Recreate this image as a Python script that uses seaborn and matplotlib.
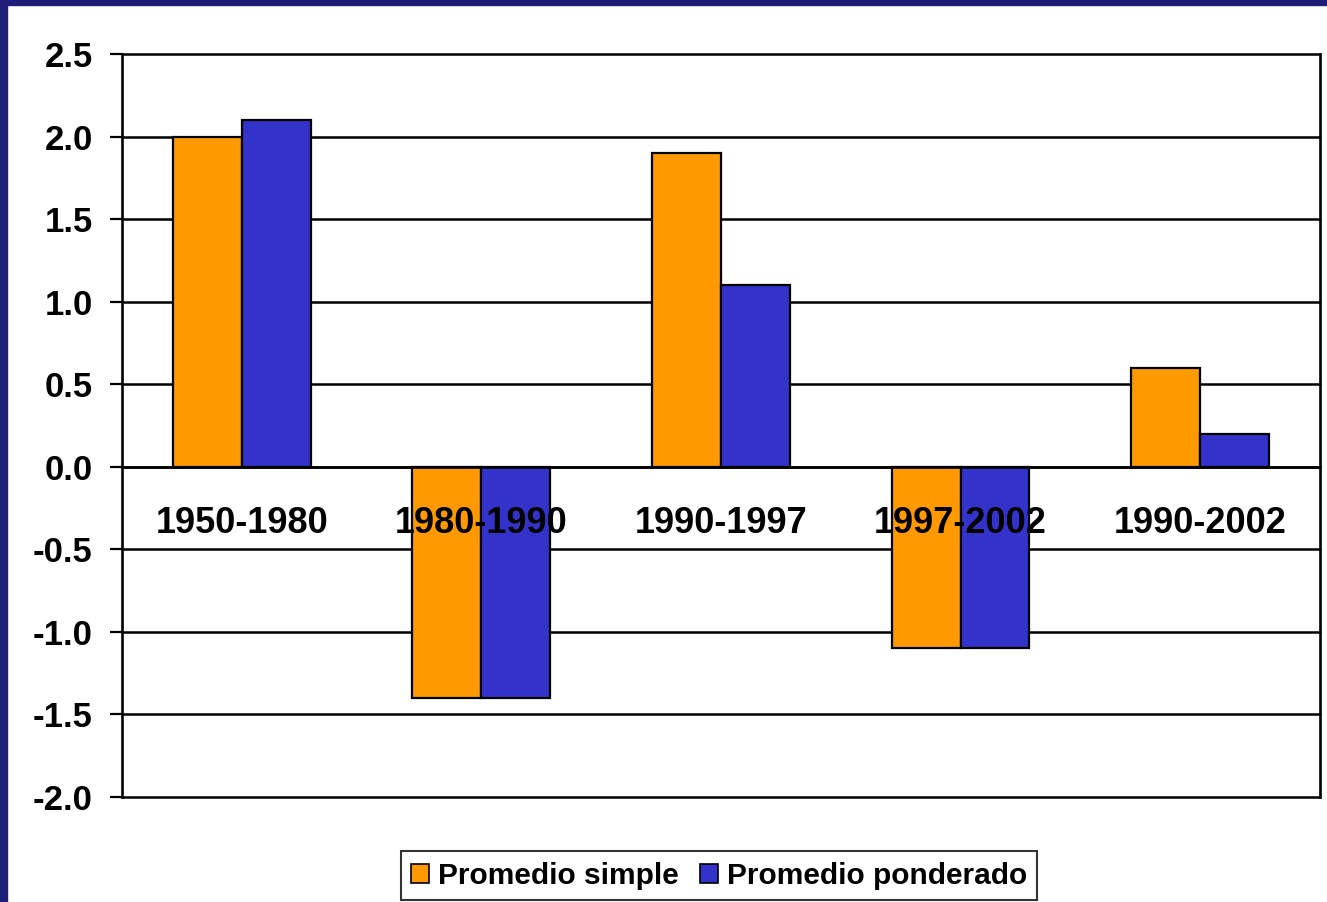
import pandas as pd
import matplotlib.pyplot as plt
import matplotlib.patches as mpatches
import seaborn as sns

sns.set_style("white")
plt.rcParams["font.family"] = ["Liberation Sans", "DejaVu Sans"]
plt.rcParams["font.weight"] = "bold"
plt.rcParams["text.color"] = "black"
plt.rcParams["xtick.color"] = "black"
plt.rcParams["ytick.color"] = "black"

# data
periods = ["1950-1980", "1980-1990", "1990-1997", "1997-2002", "1990-2002"]
simple = [2.0, -1.4, 1.9, -1.1, 0.6]
ponderado = [2.1, -1.4, 1.1, -1.1, 0.2]
series = ["Promedio simple", "Promedio ponderado"]
colors = ["#FF9900", "#3333CC"]

df = pd.DataFrame({
    "periodo": periods * 2,
    "valor": simple + ponderado,
    "serie": [series[0]] * len(periods) + [series[1]] * len(periods),
})

fig = plt.figure(figsize=(13.27, 9.02), dpi=100)
ax = fig.add_axes([0.0919, 0.1164, 0.9028, 0.8237])

sns.barplot(data=df, x="periodo", y="valor", hue="serie", palette=colors,
            saturation=1, width=0.575, gap=0, edgecolor="black", linewidth=1.6,
            errorbar=None, ax=ax, legend=False)

ax.set_xlim(-0.5, len(periods) - 0.5)
ax.set_ylim(-2.0, 2.5)
ax.set_yticks([-2.0, -1.5, -1.0, -0.5, 0.0, 0.5, 1.0, 1.5, 2.0, 2.5])
ax.set_yticklabels([f"{v:.1f}" for v in ax.get_yticks()], fontsize=25, fontweight="bold")
ax.set_xlabel("")
ax.set_ylabel("")

# gridlines behind bars
ax.set_axisbelow(True)
ax.yaxis.grid(True, color="black", linewidth=1.8)
ax.xaxis.grid(False)
for gl in ax.get_ygridlines():
    gl.set_clip_on(False)

# x axis sits on the zero line
ax.spines["bottom"].set_position(("data", 0))
for s in ["left", "right", "top", "bottom"]:
    ax.spines[s].set_color("black")
    ax.spines[s].set_linewidth(1.9)
ax.spines["top"].set_visible(False)

# category labels drawn above the bars
ax.set_xticks(range(len(periods)))
ax.set_xticklabels([""] * len(periods))
for i, p in enumerate(periods):
    ax.text(i, -0.345, p, ha="center", va="center", fontsize=26,
            fontweight="bold", color="black", zorder=10)
ax.set_xticks([i + 0.5 for i in range(len(periods) - 1)], minor=True)
ax.tick_params(axis="x", which="major", length=0)
ax.tick_params(axis="x", which="minor", direction="out", length=8, width=1.6, color="black")
ax.tick_params(axis="y", direction="out", length=9, width=1.6, color="black", pad=12, left=True)

handles = [mpatches.Patch(facecolor=c, edgecolor="black", linewidth=1.2) for c in colors]
leg = ax.legend(handles, series, loc="center", bbox_to_anchor=(0.5418, 0.029),
                bbox_transform=fig.transFigure, ncol=2, frameon=True, fancybox=False,
                edgecolor="black", handlelength=0.6, handleheight=0.6, handletextpad=0.3,
                columnspacing=0.7, borderpad=0.35, prop={"size": 21.5, "weight": "bold"})
leg.get_frame().set_linewidth(1.5)

# slide background border (navy strips on left and top)
navy = "#1e1e78"
fig.patches.append(mpatches.Rectangle((0, 0), 7 / 1327, 1, transform=fig.transFigure,
                                      color=navy, zorder=-1))
fig.patches.append(mpatches.Rectangle((0, 1 - 5 / 902), 1, 5 / 902, transform=fig.transFigure,
                                      color=navy, zorder=-1))

fig.savefig("out.png", dpi=100)
